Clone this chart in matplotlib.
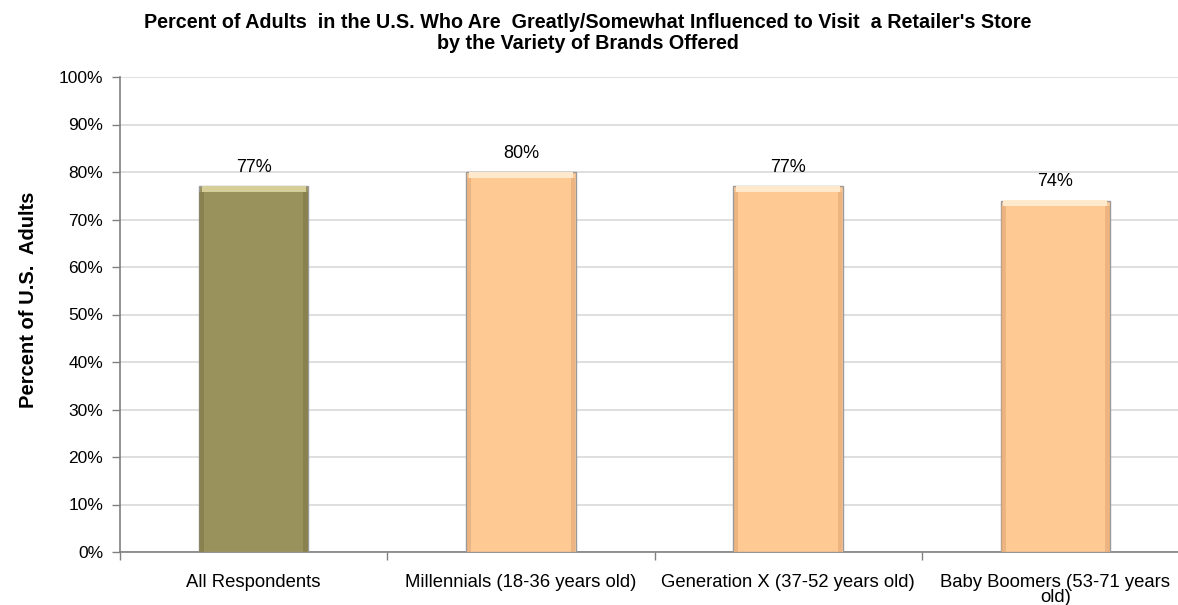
import matplotlib
matplotlib.use("Agg")
import matplotlib.pyplot as plt
import numpy as np

categories = ["All Respondents", "Millennials (18-36 years old)",
              "Generation X (37-52 years old)", "Baby Boomers (53-71 years\nold)"]
values = [77, 80, 77, 74]
bar_colors = ["#9A925C", "#FFC994", "#FFC994", "#FFC994"]
edge_colors = ["#7E7846", "#E0A774", "#E0A774", "#E0A774"]
top_colors = ["#D6CE98", "#FFE9CC", "#FFE9CC", "#FFE9CC"]
yticks = list(range(0, 101, 10))
title = ("Percent of Adults  in the U.S. Who Are  Greatly/Somewhat Influenced to Visit  a Retailer's Store\n"
         "by the Variety of Brands Offered")
ylabel = "Percent of U.S.  Adults"

plt.rcParams['font.family'] = ['Liberation Sans', 'DejaVu Sans']

fig = plt.figure(figsize=(11.78, 6.05), dpi=100)
ax = fig.add_axes([120 / 1178, 1 - 552 / 605, 1069 / 1178, 475 / 605])

x = np.arange(len(categories))
width = 0.41
ax.bar(x, values, width=width, color=bar_colors, edgecolor="#9A9A9A",
       linewidth=1.0, zorder=3)
# bevel highlight along the top of each bar
bevel = 1.2
ax.bar(x, [bevel] * len(values), width=width * 0.95,
       bottom=[v - bevel for v in values], color=top_colors,
       linewidth=0, zorder=4)
# soft shading along both sides
for off in (-0.475, 0.475):
    ax.bar(x + width * off, [v - bevel for v in values], width=width * 0.04,
           color=edge_colors, alpha=0.6, linewidth=0, zorder=4)

for xi, v in zip(x, values):
    ax.text(xi, v + 4, f"{v}%", ha="center", va="center", fontsize=13, color="#000000")

ax.set_xlim(-0.5, len(categories) - 0.5)
ax.set_ylim(0, 100)
ax.set_yticks(yticks)
ax.set_yticklabels([f"{t}%" for t in yticks], fontsize=12.5)
ax.yaxis.grid(True, color="#D9D9D9", linewidth=1.2, zorder=0)
ax.set_axisbelow(True)

ax.set_xticks(x)
ax.set_xticklabels(categories, fontsize=13.3, linespacing=0.82)
ax.tick_params(axis="x", which="major", length=0, pad=16)
ax.set_xticks(np.arange(-0.5, len(categories) + 0.5, 1), minor=True)
ax.tick_params(axis="x", which="minor", length=6, color="#808080", width=1)
ax.tick_params(axis="y", length=6, color="#808080", width=1, pad=6)

for side in ["top", "right"]:
    ax.spines[side].set_visible(False)
for side in ["left", "bottom"]:
    ax.spines[side].set_color("#808080")
    ax.spines[side].set_linewidth(1.2)

ax.set_ylabel(ylabel, fontsize=14.5, fontweight="bold")
ax.yaxis.set_label_coords(-0.077, 0.53)

fig.text(588 / 1178, 1 - 33 / 605, title, ha="center", va="center",
         fontsize=14.2, fontweight="bold", linespacing=1.1)

fig.savefig("out.png", dpi=100)
